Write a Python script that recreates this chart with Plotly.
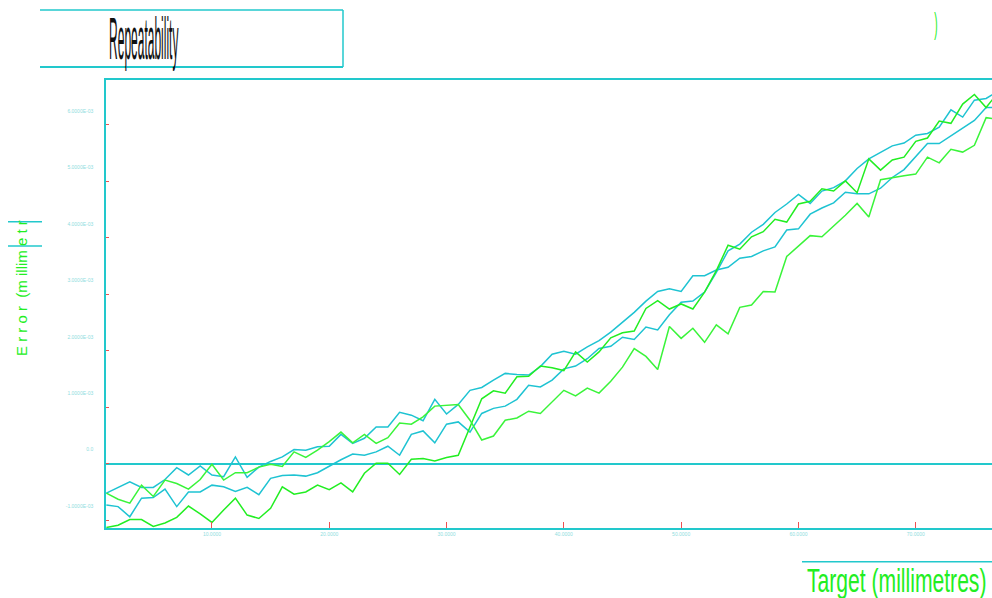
import plotly.graph_objects as go

# Target positions (millimetres) and repeated error runs (micrometres)
target = list(range(1, 78))

run_1 = [-0.52, -0.42, -0.32, -0.42, -0.42, -0.28, -0.07, -0.20, -0.04, -0.20,
         -0.23, 0.12, -0.24, -0.06, 0.04, 0.12, 0.25, 0.24, 0.30, 0.31,
         0.52, 0.36, 0.45, 0.65, 0.65, 0.91, 0.86, 0.76, 1.14, 0.88,
         1.05, 1.30, 1.35, 1.48, 1.60, 1.58, 1.57, 1.72, 1.94, 1.99,
         1.94, 2.07, 2.18, 2.33, 2.51, 2.68, 2.88, 3.05, 3.10, 3.05,
         3.33, 3.33, 3.43, 3.48, 3.64, 3.67, 3.77, 3.84, 4.14, 4.16,
         4.42, 4.53, 4.62, 4.81, 4.78, 4.78, 4.88, 5.07, 5.21, 5.45,
         5.67, 5.67, 5.81, 5.95, 6.08, 6.31, 6.31]

run_2 = [-0.73, -0.76, -0.94, -0.61, -0.60, -0.45, -0.76, -0.50, -0.50, -0.38,
         -0.41, -0.49, -0.42, -0.55, -0.26, -0.21, -0.20, -0.22, -0.16, -0.04,
         0.07, 0.17, 0.15, 0.21, 0.31, 0.15, 0.52, 0.58, 0.37, 0.70,
         0.74, 0.56, 0.89, 0.98, 1.02, 1.14, 1.39, 1.36, 1.48, 1.68,
         1.73, 1.86, 2.04, 2.08, 2.24, 2.20, 2.42, 2.37, 2.64, 2.86,
         2.88, 3.04, 3.39, 3.77, 3.89, 4.10, 4.24, 4.45, 4.60, 4.77,
         4.61, 4.83, 4.89, 5.01, 5.23, 5.40, 5.51, 5.63, 5.68, 5.82,
         5.85, 5.96, 6.27, 6.14, 6.44, 6.47, 6.60]

run_3 = [-1.13, -1.09, -0.99, -0.99, -1.11, -1.05, -0.95, -0.75, -0.89, -1.04,
         -0.82, -0.61, -0.91, -0.97, -0.79, -0.41, -0.54, -0.50, -0.38, -0.46,
         -0.34, -0.50, -0.17, 0.01, 0.01, -0.19, 0.08, 0.09, 0.05, 0.11,
         0.15, 0.65, 1.15, 1.29, 1.25, 1.54, 1.55, 1.73, 1.70, 1.65,
         1.98, 1.80, 1.98, 2.23, 2.32, 2.35, 2.75, 2.89, 2.74, 2.83,
         2.74, 3.04, 3.42, 3.87, 3.80, 4.02, 4.11, 4.33, 4.28, 4.60,
         4.65, 4.87, 4.83, 5.01, 4.80, 5.40, 5.20, 5.38, 5.43, 5.71,
         5.77, 6.07, 6.03, 6.37, 6.54, 6.31, 6.57]

run_4 = [-0.52, -0.63, -0.70, -0.38, -0.58, -0.29, -0.35, -0.45, -0.28, -0.01,
         -0.29, -0.16, -0.16, -0.06, -0.01, -0.05, 0.21, 0.11, 0.24, 0.39,
         0.56, 0.37, 0.52, 0.36, 0.46, 0.72, 0.70, 0.83, 1.02, 1.03,
         1.05, 0.77, 0.42, 0.49, 0.77, 0.81, 0.93, 0.89, 1.09, 1.30,
         1.20, 1.34, 1.25, 1.46, 1.71, 2.04, 1.90, 1.67, 2.43, 2.22,
         2.40, 2.15, 2.46, 2.30, 2.77, 2.81, 3.05, 3.04, 3.67, 3.85,
         4.04, 4.02, 4.21, 4.40, 4.61, 4.37, 5.03, 5.07, 5.10, 5.13,
         5.43, 5.33, 5.57, 5.52, 5.64, 6.13, 6.10]

x_tick_vals = [10, 20, 30, 40, 50, 60, 70]
x_tick_text = ["10.0000", "20.0000", "30.0000", "40.0000", "50.0000", "60.0000", "70.0000"]
y_tick_vals_um = [-1, 0, 1, 2, 3, 4, 5, 6]
y_tick_text = ["-1.0000E-03", "0.0", "1.0000E-03", "2.0000E-03", "3.0000E-03",
               "4.0000E-03", "5.0000E-03", "6.0000E-03"]

CYAN = "#1ec3d2"
AXIS_CYAN = "#22c8cc"
GREEN_A = "#22ee22"
GREEN_B = "#3af43a"
TICK_RED = "#f05050"
LABEL_CYAN = "#8fdde0"

series = [
    (run_1, CYAN),
    (run_2, CYAN),
    (run_3, GREEN_A),
    (run_4, GREEN_B),
]

fig = go.Figure()
for values, colour in series:
    fig.add_trace(go.Scatter(
        x=target,
        y=[v / 1000 for v in values],
        mode="lines",
        line=dict(color=colour, width=1.5),
        hoverinfo="skip",
    ))

# plot area spans x 106..992, y 80..528 (pixels)
L, R, T, B = 106, 992, 80, 528


def px(xp):
    return (xp - L) / (R - L)


def py(yp):
    return (B - yp) / (B - T)


line_style = dict(color=AXIS_CYAN, width=1.5)
shapes = [
    # frame around the title
    dict(type="line", xref="paper", yref="paper", x0=px(40), x1=px(343), y0=py(10), y1=py(10), line=line_style),
    dict(type="line", xref="paper", yref="paper", x0=px(40), x1=px(343), y0=py(67), y1=py(67), line=dict(color=AXIS_CYAN, width=2)),
    dict(type="line", xref="paper", yref="paper", x0=px(343), x1=px(343), y0=py(10), y1=py(67), line=line_style),
    # rules around the y title
    dict(type="line", xref="paper", yref="paper", x0=px(8), x1=px(42), y0=py(221.7), y1=py(221.7), line=line_style),
    dict(type="line", xref="paper", yref="paper", x0=px(8), x1=px(42), y0=py(246), y1=py(246), line=line_style),
    # rule above the x title
    dict(type="line", xref="paper", yref="paper", x0=px(802), x1=1.0, y0=py(561.7), y1=py(561.7), line=line_style),
]

annotations = [
    dict(text="Repeatability", xref="paper", yref="paper", x=px(107), y=py(39),
         xanchor="left", yanchor="middle", showarrow=False,
         font=dict(family="Liberation Sans", size=60, color="#111111")),
    dict(text="Target (millimetres)", xref="paper", yref="paper", x=px(989), y=py(580),
         xanchor="right", yanchor="middle", showarrow=False,
         font=dict(family="Liberation Sans", size=33, color=GREEN_A)),
    dict(text="E r r o r  (m illim e t r", xref="paper", yref="paper", x=px(21), y=py(358),
         xanchor="center", yanchor="bottom", textangle=-90, showarrow=False,
         font=dict(family="Liberation Sans", size=15, color=GREEN_A)),
    dict(text=")", xref="paper", yref="paper", x=px(936), y=py(23.5),
         xanchor="center", yanchor="middle", showarrow=False,
         font=dict(family="Liberation Sans", size=29, color=GREEN_A)),
]

fig.update_layout(
    width=992, height=598,
    margin=dict(l=L, r=992 - R, t=T, b=598 - B, pad=0),
    paper_bgcolor="white", plot_bgcolor="white",
    showlegend=False, hovermode=False,
    shapes=shapes, annotations=annotations,
    xaxis=dict(
        range=[0.97, 76.5], showgrid=False, zeroline=False,
        showline=True, linecolor=AXIS_CYAN, linewidth=2, mirror=True,
        ticks="inside", ticklen=6, tickwidth=1, tickcolor=TICK_RED,
        tickvals=x_tick_vals, ticktext=x_tick_text,
        tickfont=dict(family="Liberation Sans", size=5, color=LABEL_CYAN),
    ),
    yaxis=dict(
        range=[-1.139 / 1000, 6.797 / 1000], showgrid=False,
        zeroline=True, zerolinecolor=AXIS_CYAN, zerolinewidth=1.5,
        showline=True, linecolor=AXIS_CYAN, linewidth=1.5,
        ticks="inside", ticklen=3, tickwidth=1, tickcolor=TICK_RED,
        tickvals=[v / 1000 for v in y_tick_vals_um], ticktext=y_tick_text,
        ticklabelshift=-14, ticklabelstandoff=10,
        tickfont=dict(family="Liberation Sans", size=5, color=LABEL_CYAN),
    ),
)

# narrow the display lettering horizontally
squeeze_js = """
var gd = document.getElementById('{plot_id}');
var rules = {'Repeatability': [0.2, 'left center'],
             'Target (millimetres)': [0.64, 'right center'],
             ')': [0.35, 'center center']};
gd.querySelectorAll('text.annotation-text').forEach(function (t) {
  var r = rules[t.textContent];
  if (r) {
    t.style.transformBox = 'fill-box';
    t.style.transformOrigin = r[1];
    t.style.transform = 'scale(' + r[0] + ',1)';
  }
});
"""

fig.write_html("out.html", post_script=squeeze_js)
